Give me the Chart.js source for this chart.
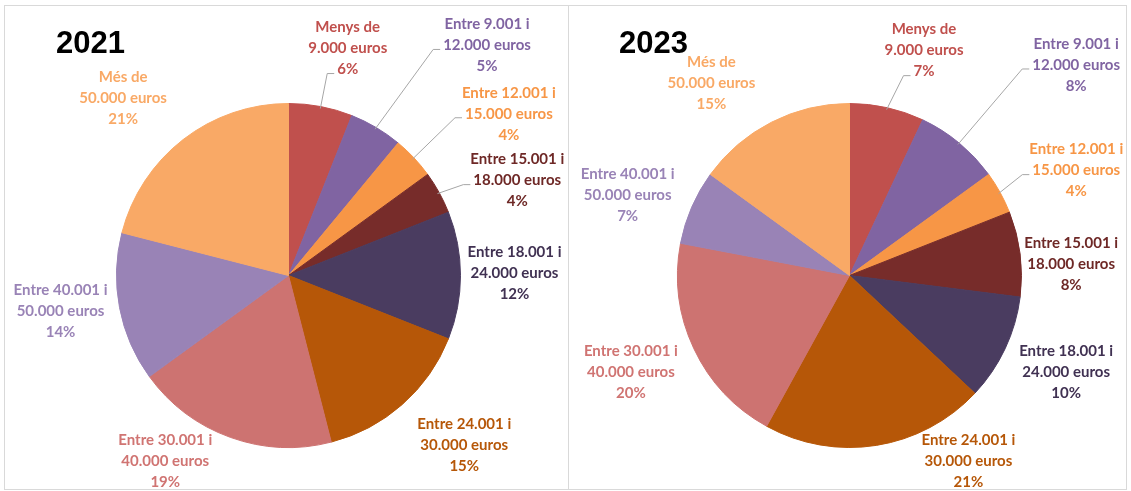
<!DOCTYPE html>
<html>
<head>
<meta charset="utf-8">
<script src="https://cdn.jsdelivr.net/npm/chart.js@4.4.1/dist/chart.umd.min.js"></script>
<style>
  html, body { margin: 0; padding: 0; background: #ffffff; }
  body { width: 1131px; height: 491px; position: relative; overflow: hidden; }
  .panel { position: absolute; top: 5px; height: 483px; border: 1px solid #D9D9D9; box-sizing: content-box; }
  #p1 { left: 4px; width: 563px; }
  #p2 { left: 568px; width: 558px; border-left: none; }
  canvas { display: block; }
</style>
</head>
<body>
<div class="panel" id="p1"><canvas id="c1"></canvas></div>
<div class="panel" id="p2"><canvas id="c2"></canvas></div>
<script>
// ---- data ----
const categories = [
  'Menys de 9.000 euros',
  'Entre 9.001 i 12.000 euros',
  'Entre 12.001 i 15.000 euros',
  'Entre 15.001 i 18.000 euros',
  'Entre 18.001 i 24.000 euros',
  'Entre 24.001 i 30.000 euros',
  'Entre 30.001 i 40.000 euros',
  'Entre 40.001 i 50.000 euros',
  'Més de 50.000 euros'
];
const categoryLines = [
  ['Menys de', '9.000 euros'],
  ['Entre 9.001 i', '12.000 euros'],
  ['Entre 12.001 i', '15.000 euros'],
  ['Entre 15.001 i', '18.000 euros'],
  ['Entre 18.001 i', '24.000 euros'],
  ['Entre 24.001 i', '30.000 euros'],
  ['Entre 30.001 i', '40.000 euros'],
  ['Entre 40.001 i', '50.000 euros'],
  ['Més de', '50.000 euros']
];
const values2021 = [6, 5, 4, 4, 12, 15, 19, 14, 21];
const values2023 = [7, 8, 4, 8, 10, 21, 20, 7, 15];
const titles = ['2021', '2023'];

// ---- styles ----
const sliceColors = ['#C0504D', '#8064A2', '#F79646', '#772C2A', '#4A3C60', '#B65708', '#CD7371', '#9983B6', '#F9A966'];
const textColors  = ['#C0504D', '#8064A2', '#F79646', '#6E2826', '#403152', '#B65708', '#D07472', '#9983B6', '#F9A966'];
// label centre offsets from the slice's outer mid-point (px)
const labelOffsets2021 = [[27,-58],[111,-82],[95,-44],[78,-12],[54,-2],[62,41],[-65,24],[-59,3],[-60,-41]];
const labelOffsets2023 = [[37,-57],[117,-78],[76,-22],[51,10],[61,23],[92,16],[-63,23],[-64,-12],[-60,-39]];
// which text line (1-based) a leader line attaches to; 0 = no leader
const leaders2021 = [3,2,2,2,0,0,0,0,0];
const leaders2023 = [3,2,2,0,0,0,0,0,0];

const LABEL_FONT = 'bold 15px Lato';
const LINE_H = 21;

const labelPlugin = {
  id: 'pieLabels',
  afterDatasetsDraw(chart, args, opts) {
    const ctx = chart.ctx;
    const meta = chart.getDatasetMeta(0);
    const data = chart.data.datasets[0].data;
    ctx.save();
    // title
    ctx.font = 'bold 31px "Liberation Sans", Arial, sans-serif';
    ctx.fillStyle = '#000000';
    ctx.textAlign = 'left';
    ctx.textBaseline = 'alphabetic';
    ctx.fillText(opts.title, 51, 47);

    ctx.font = LABEL_FONT;
    meta.data.forEach((arc, i) => {
      const p = arc.getProps(['x','y','startAngle','endAngle','outerRadius'], true);
      const mid = (p.startAngle + p.endAngle) / 2;
      const ox = p.x + p.outerRadius * Math.cos(mid);
      const oy = p.y + p.outerRadius * Math.sin(mid);
      const off = opts.offsets[i];
      const cx = ox + off[0];
      const cy = oy + off[1];
      const lines = categoryLines[i].concat([data[i] + '%']);
      const top = cy - LINE_H;
      // leader line
      const li = opts.leaders[i];
      if (li > 0) {
        const txt = lines[li - 1];
        const w = ctx.measureText(txt).width;
        const lx = cx - w / 2 - 3;
        const ly = top + (li - 1) * LINE_H + 4;
        ctx.strokeStyle = '#A6A6A6';
        ctx.lineWidth = 1;
        ctx.beginPath();
        ctx.moveTo(p.x + (p.outerRadius - 2) * Math.cos(mid), p.y + (p.outerRadius - 2) * Math.sin(mid));
        ctx.lineTo(lx - 7, ly);
        ctx.lineTo(lx, ly);
        ctx.stroke();
      }
      ctx.fillStyle = textColors[i];
      ctx.textAlign = 'center';
      ctx.textBaseline = 'middle';
      lines.forEach((t, k) => ctx.fillText(t, cx, top + k * LINE_H));
    });
    ctx.restore();
  }
};

function makePie(id, values, title, offsets, leaders, padding) {
  return new Chart(document.getElementById(id), {
    type: 'pie',
    data: {
      labels: categories,
      datasets: [{
        data: values,
        backgroundColor: sliceColors,
        borderColor: sliceColors,
        borderWidth: 1
      }]
    },
    options: {
      responsive: true,
      maintainAspectRatio: false,
      animation: false,
      layout: { padding: padding },
      plugins: {
        legend: { display: false },
        tooltip: { enabled: false },
        pieLabels: { title: title, offsets: offsets, leaders: leaders }
      }
    },
    plugins: [labelPlugin]
  });
}

document.fonts.load(LABEL_FONT).then(() => {
  makePie('c1', values2021, titles[0], labelOffsets2021, leaders2021, { left: 111, top: 97, right: 107, bottom: 41 });
  makePie('c2', values2023, titles[1], labelOffsets2023, leaders2023, { left: 109, top: 97, right: 104, bottom: 41 });
});
</script>
</body>
</html>
